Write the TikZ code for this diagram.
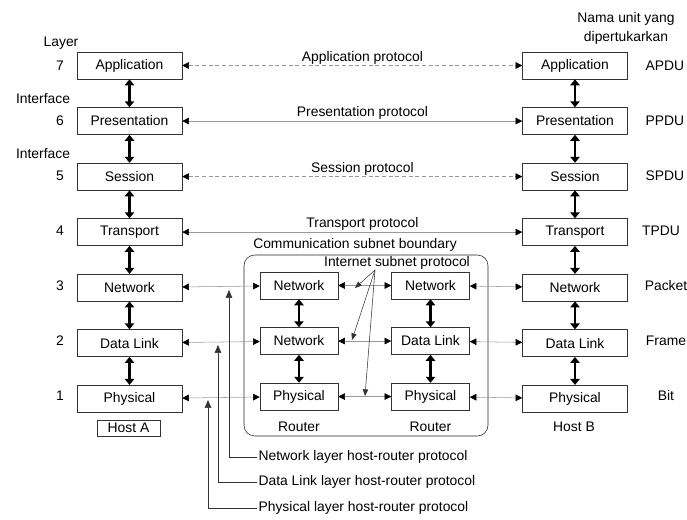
\documentclass[tikz,border=0pt]{standalone}
\usepackage{fontspec}
\setmainfont{Liberation Sans}
\usetikzlibrary{positioning, arrows.meta}

\begin{document}
\begin{tikzpicture}[
        x=0.75pt, y=-0.75pt,
        node distance=21pt,
        every node/.style={font=\fontsize{10.4}{12}\selectfont},
        layerbox/.style={rectangle, draw=black!80, minimum width=78.75pt, minimum height=20.25pt, inner sep=0pt},
        routerbox/.style={layerbox, minimum width=58.5pt},
        label/.style={text=black, inner sep=1pt},
        proto/.style={{Triangle[length=5pt, width=5pt, color=black]}-{Triangle[length=5pt, width=5pt, color=black]}, draw=gray!80, thin},
        updown/.style={{Triangle[length=4.5pt, width=7pt]}-{Triangle[length=4.5pt, width=7pt]}, line width=1.7pt},
        hrarrow/.style={-{Triangle[length=6pt, width=5pt]}, draw=black!80, thin}
    ]
    \useasboundingbox (0,0) rectangle (687,520);

    % HOST A
    \node[layerbox] (appA) at (129.5,65.5) {Application};
    \node[layerbox, below=of appA] (presA) {Presentation};
    \node[layerbox, below=of presA] (sesA) {Session};
    \node[layerbox, below=of sesA] (tranA) {Transport};
    \node[layerbox, below=of tranA] (netA) {Network};
    \node[layerbox, below=of netA] (dlA) {Data Link};
    \node[layerbox, below=of dlA] (phyA) {Physical};
    \node[draw=black!80, thin, minimum width=47pt, minimum height=12pt, inner sep=0pt] (hostA) at (128.5,428) {Host A};

    % HOST B
    \node[layerbox] (appB) at (575,65.5) {Application};
    \node[layerbox, below=of appB] (presB) {Presentation};
    \node[layerbox, below=of presB] (sesB) {Session};
    \node[layerbox, below=of sesB] (tranB) {Transport};
    \node[layerbox, below=of tranB] (netB) {Network};
    \node[layerbox, below=of netB] (dlB) {Data Link};
    \node[layerbox, below=of dlB] (phyB) {Physical};
    \node[label] (hostB) at (574,427) {Host B};

    % COMMUNICATION SUBNET
    \node[draw=black!85, thin, rounded corners=8pt, minimum width=183pt, minimum height=135.75pt] (subnet) at (366,345.5) {};
    \node[label] (lblSubnet) at (355,245) {Communication subnet boundary};
    \node[label] (lblInternet) at (397,263) {Internet subnet protocol};
    \node[routerbox] (netR1) at (299,285.5) {Network};
    \node[routerbox, below=of netR1] (dlR1) {Network};
    \node[routerbox, below=of dlR1] (phyR1) {Physical};
    \node[label] (router1) at (299,427) {Router};
    \node[routerbox] (netR2) at (430.5,285.5) {Network};
    \node[routerbox, below=of netR2] (dlR2) {Data Link};
    \node[routerbox, below=of dlR2] (phyR2) {Physical};
    \node[label] (router2) at (430.5,427) {Router};

    % Layer numbers
    \node[label] (lblLayer) at (61,43) {Layer};
    \node[label] (n7) at (60,65.5) {7};
    \node[label] (lblIf1) at (43,99) {Interface};
    \node[label] (n6) at (60,120.5) {6};
    \node[label] (lblIf2) at (43,154) {Interface};
    \node[label] (n5) at (60,175.5) {5};
    \node[label] (n4) at (60,230.5) {4};
    \node[label] (n3) at (60,285.5) {3};
    \node[label] (n2) at (60,340.5) {2};
    \node[label] (n1) at (60,395.5) {1};

    % Exchanged units
    \node[label, align=center, font=\fontsize{10.4}{14}\selectfont] (lblUnit) at (626,28.5) {Nama unit yang\\dipertukarkan};
    \node[label] (uApp) at (665,65.5) {APDU};
    \node[label] (uPres) at (665,120.5) {PPDU};
    \node[label] (uSes) at (665,175.5) {SPDU};
    \node[label] (uTran) at (661,230.5) {TPDU};
    \node[label] (uNet) at (666,285.5) {Packet};
    \node[label] (uDl) at (666,340.5) {Frame};
    \node[label] (uPhy) at (666,395.5) {Bit};

    % Peer protocols
    \draw[proto, densely dashed] (appA) -- node[label, pos=0.53, above] (lblApp) {Application protocol} (appB);
    \draw[proto] (presA) -- node[label, pos=0.53, above] (lblPres) {Presentation protocol} (presB);
    \draw[proto, densely dashed] (sesA) -- node[label, pos=0.53, above] (lblSes) {Session protocol} (sesB);
    \draw[proto] (tranA) -- node[label, pos=0.53, above] (lblTran) {Transport protocol} (tranB);
    \draw[proto] (netA) -- (netR1);
    \draw[proto] (netR1) -- (netR2);
    \draw[proto] (netR2) -- (netB);
    \draw[proto] (dlA) -- (dlR1);
    \draw[proto] (dlR1) -- (dlR2);
    \draw[proto] (dlR2) -- (dlB);
    \draw[proto] (phyA) -- (phyR1);
    \draw[proto] (phyR1) -- (phyR2);
    \draw[proto] (phyR2) -- (phyB);

    % Interfaces between layers
    \draw[updown] (appA) -- (presA);
    \draw[updown] (presA) -- (sesA);
    \draw[updown] (sesA) -- (tranA);
    \draw[updown] (tranA) -- (netA);
    \draw[updown] (netA) -- (dlA);
    \draw[updown] (dlA) -- (phyA);
    \draw[updown] (appB) -- (presB);
    \draw[updown] (presB) -- (sesB);
    \draw[updown] (sesB) -- (tranB);
    \draw[updown] (tranB) -- (netB);
    \draw[updown] (netB) -- (dlB);
    \draw[updown] (dlB) -- (phyB);
    \draw[updown] (netR1) -- (dlR1);
    \draw[updown] (dlR1) -- (phyR1);
    \draw[updown] (netR2) -- (dlR2);
    \draw[updown] (dlR2) -- (phyR2);

    % Internet subnet protocol pointers
    \coordinate (ispFrom) at (375,270);
    \coordinate (ispNet) at (355,288);
    \coordinate (ispDl) at (352,340);
    \coordinate (ispPhy) at (365,396);
    \draw[hrarrow, -{Triangle[length=5pt, width=4pt]}] (ispFrom) -- (ispNet);
    \draw[hrarrow, -{Triangle[length=5pt, width=4pt]}] (ispFrom) -- (ispDl);
    \draw[hrarrow, -{Triangle[length=5pt, width=4pt]}] (ispFrom) -- (ispPhy);

    % Host-router protocols
    \node[label, anchor=west] (lblNetHR) at (257,457) {Network layer host-router protocol};
    \node[label, anchor=west] (lblDlHR) at (257,482) {Data Link layer host-router protocol};
    \node[label, anchor=west] (lblPhyHR) at (257,508) {Physical layer host-router protocol};
    \coordinate (netTap) at (229,290);
    \coordinate (dlTap) at (218,345);
    \coordinate (phyTap) at (208,400);
    \draw[hrarrow] (lblNetHR.west) -| (netTap);
    \draw[hrarrow] (lblDlHR.west) -| (dlTap);
    \draw[hrarrow] (lblPhyHR.west) -| (phyTap);
\end{tikzpicture}
\end{document}
